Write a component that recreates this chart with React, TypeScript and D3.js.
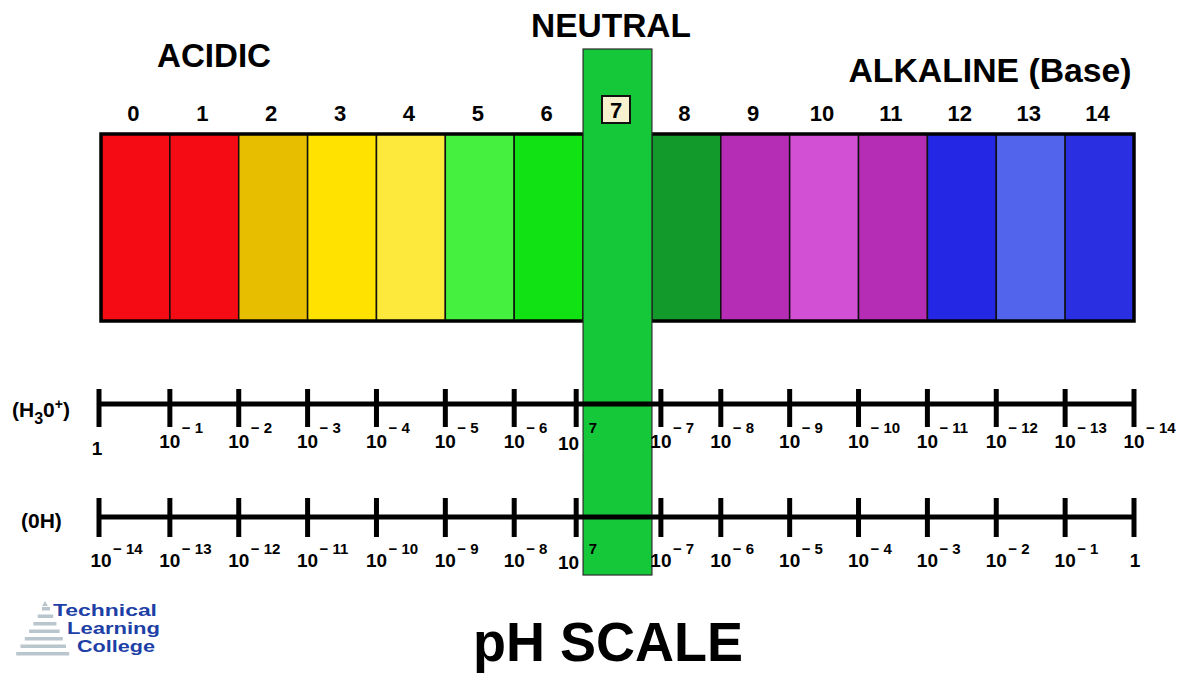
import React from "react";
import * as d3 from "d3";

const phLabels = ["0","1","2","3","4","5","6","7","8","9","10","11","12","13","14"];
const cellColors = ["#F40B13","#F40B13","#E8BF00","#FFE200","#FDE93C","#46F03E","#10E213","#14C83A","#129B2B","#B52CB5","#D150D3","#B52DB4","#2428E4","#5263EC","#2A30E1"];
// tick positions measured in pH-cell units along the scale
const tickPos = [0,1,2,3,4,5,6,6.9,8.13,9,10,11,12,13,14,15];
const h3oBase = ["1","10","10","10","10","10","10","10","10","10","10","10","10","10","10","10"];
const h3oExp = ["","− 1","− 2","− 3","− 4","− 5","− 6","7","− 7","− 8","− 9","− 10","− 11","− 12","− 13","−  14"];
const ohBase = ["10","10","10","10","10","10","10","10","10","10","10","10","10","10","10","1"];
const ohExp = ["− 14","− 13","− 12","− 11","− 10","− 9","− 8","7","− 7","− 6","− 5","− 4","− 3","− 2","− 1",""];
const neutralIndex = 7;
const logoLines = ["Technical", "Learning", "College"];

const FONT = "'Liberation Sans', Arial, Helvetica, sans-serif";

export default function App() {
  const W = 1192, H = 674;
  const x = d3.scaleLinear().domain([0, 15]).range([101, 1134]);
  const barTop = 134, barBottom = 321;
  const rows = [
    { y: 404, t1: 389, t2: 427, base: h3oBase, exp: h3oExp, by: 448, ey: 433, label: "h3o" },
    { y: 517, t1: 498, t2: 537, base: ohBase, exp: ohExp, by: 567, ey: 554, label: "oh" },
  ];
  const gx0 = x(neutralIndex), gx1 = x(neutralIndex + 1);
  const stripes = d3.range(0, 7);
  const logoX = [53, 67, 77];
  const logoY = [616, 634, 652];
  const logoW = [104, 93, 78];

  return (
    <svg width={W} height={H} style={{ position: "absolute", left: 0, top: 0, background: "#fff" }} fontFamily={FONT}>
      <rect x={0} y={0} width={W} height={H} fill="#fff" />
      {/* Headings */}
      <text x={611} y={37} textAnchor="middle" fontSize={34} fontWeight="bold" textLength={160} lengthAdjust="spacingAndGlyphs">NEUTRAL</text>
      <text x={214} y={67} textAnchor="middle" fontSize={33} fontWeight="bold" textLength={114} lengthAdjust="spacingAndGlyphs">ACIDIC</text>
      <text x={990} y={82} textAnchor="middle" fontSize={33} fontWeight="bold" textLength={283} lengthAdjust="spacingAndGlyphs">ALKALINE (Base)</text>

      {/* color cells */}
      {phLabels.map((d, i) => (
        <rect key={"c" + i} x={x(i)} y={barTop} width={x(i + 1) - x(i)} height={barBottom - barTop}
          fill={cellColors[i]} stroke="#111" strokeWidth={1.5} />
      ))}
      <rect x={x(0)} y={barTop} width={x(15) - x(0)} height={barBottom - barTop} fill="none" stroke="#000" strokeWidth={3.5} />

      {/* pH numbers */}
      {phLabels.map((d, i) => i === neutralIndex ? null : (
        <text key={"n" + i} x={(x(i) + x(i + 1)) / 2 - 2} y={121} textAnchor="middle" fontSize={22} fontWeight="bold">{d}</text>
      ))}

      {/* neutral overlay */}
      <rect x={gx0} y={49} width={gx1 - gx0} height={575 - 49} fill="#14C83A" stroke="#2a2a2a" strokeWidth={1.2} />
      <rect x={602} y={96} width={28} height={27} fill="#F6F0CF" stroke="#111" strokeWidth={2} />
      <text x={616} y={118} textAnchor="middle" fontSize={22} fontWeight="bold">{phLabels[neutralIndex]}</text>

      {/* concentration axes */}
      {rows.map((r) => (
        <g key={r.label}>
          <line x1={x(tickPos[0]) - 3} x2={x(tickPos[15]) + 2} y1={r.y} y2={r.y} stroke="#000" strokeWidth={5} />
          {tickPos.map((p, i) => (
            <line key={"t" + i} x1={x(p) - (i === 0 ? 2 : 0)} x2={x(p) - (i === 0 ? 2 : 0)} y1={r.t1} y2={r.t2} stroke="#000" strokeWidth={5} />
          ))}
          {tickPos.map((p, i) => {
            const tx = x(p);
            const base = r.base[i];
            const exp = r.exp[i];
            if (base === "1") {
              const isFirst = i === 0;
              return (
                <text key={"l" + i} x={isFirst ? tx - 4 : tx + 1} y={isFirst ? r.by + 7 : r.by} textAnchor="middle" fontSize={19} fontWeight="bold">1</text>
              );
            }
            if (i === neutralIndex) {
              return (
                <g key={"l" + i}>
                  <text x={tx + 3} y={r.by + 2} textAnchor="end" fontSize={19} fontWeight="bold">{base}</text>
                  <text x={593} y={r.ey} textAnchor="middle" fontSize={15} fontWeight="bold">{exp}</text>
                </g>
              );
            }
            return (
              <g key={"l" + i}>
                <text x={tx} y={r.by} textAnchor="middle" fontSize={19} fontWeight="bold">{base}</text>
                <text x={tx + 12} y={r.ey} textAnchor="start" fontSize={15} fontWeight="bold">{exp}</text>
              </g>
            );
          })}
        </g>
      ))}

      {/* row labels */}
      <text x={12} y={417} fontSize={21} fontWeight="bold">
        (H<tspan fontSize={16} dy={7}>3</tspan><tspan dy={-7}>0</tspan><tspan fontSize={14} dy={-8}>+</tspan><tspan dy={8}>)</tspan>
      </text>
      <text x={21} y={528} fontSize={21} fontWeight="bold">(0H)</text>

      {/* Title */}
      <text x={608} y={661} textAnchor="middle" fontSize={56} fontWeight="bold" textLength={270} lengthAdjust="spacingAndGlyphs">pH SCALE</text>

      {/* Logo */}
      <g>
        <polygon points="45,601 48,606 42,606" fill="#B9C6CE" />
        {stripes.map((s) => {
          const yy = 607 + s * 7.5;
          const left = 42 - s * 4.3;
          const right = 50 + s * 3.2;
          return <rect key={"s" + s} x={left} y={yy} width={right - left} height={3.5} fill="#B9C6CE" />;
        })}
        {logoLines.map((t, i) => (
          <text key={t} x={logoX[i]} y={logoY[i]} fontSize={16} fontWeight="bold" fill="#1D3FA6" textLength={logoW[i]} lengthAdjust="spacingAndGlyphs">{t}</text>
        ))}
      </g>
    </svg>
  );
}
